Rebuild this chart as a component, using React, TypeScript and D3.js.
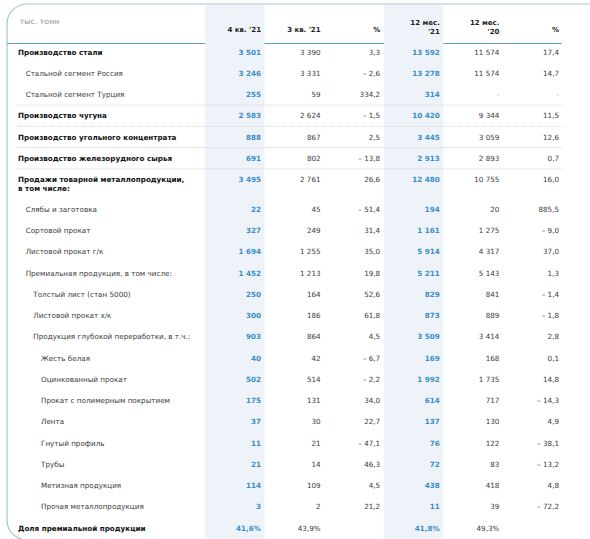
import React from "react";
import * as d3 from "d3";

const labels: string[][] = [
  ["Производство стали"],
  ["Стальной сегмент Россия"],
  ["Стальной сегмент Турция"],
  ["Производство чугуна"],
  ["Производство угольного концентрата"],
  ["Производство железорудного сырья"],
  ["Продажи товарной металлопродукции,", "в том числе:"],
  ["Слябы и заготовка"],
  ["Сортовой прокат"],
  ["Листовой прокат г/к"],
  ["Премиальная продукция, в том числе:"],
  ["Толстый лист (стан 5000)"],
  ["Листовой прокат х/к"],
  ["Продукция глубокой переработки, в т.ч.:"],
  ["Жесть белая"],
  ["Оцинкованный прокат"],
  ["Прокат с полимерным покрытием"],
  ["Лента"],
  ["Гнутый профиль"],
  ["Трубы"],
  ["Метизная продукция"],
  ["Прочая металлопродукция"],
  ["Доля премиальной продукции"],
];
const levels = [0, 1, 1, 0, 0, 0, 0, 1, 1, 1, 1, 2, 2, 2, 3, 3, 3, 3, 3, 3, 3, 3, 0];
const boldRows = [1, 0, 0, 1, 1, 1, 1, 0, 0, 0, 0, 0, 0, 0, 0, 0, 0, 0, 0, 0, 0, 0, 1];

const q4_21: (number | null)[] = [3501, 3246, 255, 2583, 888, 691, 3495, 22, 327, 1694, 1452, 250, 300, 903, 40, 502, 175, 37, 11, 21, 114, 3, 41.6];
const q3_21: (number | null)[] = [3390, 3331, 59, 2624, 867, 802, 2761, 45, 249, 1255, 1213, 164, 186, 864, 42, 514, 131, 30, 21, 14, 109, 2, 43.9];
const pctQ: (number | null)[] = [3.3, -2.6, 334.2, -1.5, 2.5, -13.8, 26.6, -51.4, 31.4, 35.0, 19.8, 52.6, 61.8, 4.5, -6.7, -2.2, 34.0, 22.7, -47.1, 46.3, 4.5, 21.2, null];
const y12_21: (number | null)[] = [13592, 13278, 314, 10420, 3445, 2913, 12480, 194, 1161, 5914, 5211, 829, 873, 3509, 169, 1992, 614, 137, 76, 72, 438, 11, 41.8];
const y12_20: (number | null)[] = [11574, 11574, null, 9344, 3059, 2893, 10755, 20, 1275, 4317, 5143, 841, 889, 3414, 168, 1735, 717, 130, 122, 83, 418, 39, 49.3];
const pctY: (number | null)[] = [17.4, 14.7, null, 11.5, 12.6, 0.7, 16.0, 885.5, -9.0, 37.0, 1.3, -1.4, -1.8, 2.8, 0.1, 14.8, -14.3, 4.9, -38.1, -13.2, 4.8, -72.2, null];

const colKeys = ["q4_21", "q3_21", "pctQ", "y12_21", "y12_20", "pctY"];
const colHeaders: string[][] = [["4 кв. '21"], ["3 кв. '21"], ["%"], ["12 мес.", "'21"], ["12 мес.", "'20"], ["%"]];
const colData = [q4_21, q3_21, pctQ, y12_21, y12_20, pctY];
const colHighlight = [true, false, false, true, false, false];
const colKind = ["num", "num", "pct", "num", "num", "pct"];
const unitLabel = "тыс. тонн";
const separatorsAfter = [2, 3, 4, 5];
const shareRow = 22;

const locale = d3.formatLocale({ decimal: ",", thousands: "\u00a0", grouping: [3], currency: ["", ""], minus: "–\u00a0" });
const fmtInt = locale.format(",d");
const fmtPct = locale.format(",.1f");

const W = 590;
const H = 539;
const FONT = "'DejaVu Sans', Verdana, sans-serif";
const BLUE = "#3a8ec6";
const TEXT = "#3a3a3a";
const FS = 7.2;

export default function App() {
  const x = d3.scalePoint<string>().domain(colKeys).range([261, 559]);
  const slot = (i: number) => i + (i > 6 ? 0.4 : 0);
  const y = d3.scaleLinear().domain([0, 22.4]).range([52, 528]);
  const indent = d3.scaleLinear().domain([0, 3]).range([18, 41]);
  const bandLeft = -56;
  const bandRight = 3.5;

  const fmtCell = (v: number | null, col: number, row: number) => {
    if (v === null) return row === shareRow ? "" : "-";
    if (row === shareRow) return fmtPct(v) + "%";
    return colKind[col] === "pct" ? fmtPct(v) : fmtInt(v);
  };

  const hlCols = colKeys.filter((_, i) => colHighlight[i]);
  const segs: [number, number][] = [];
  let start = 7;
  hlCols.forEach((k) => {
    segs.push([start, (x(k) as number) + bandLeft]);
    start = (x(k) as number) + bandRight;
  });
  segs.push([start, 562]);

  const sepY = (i: number) => (y(slot(i)) + y(slot(i + 1))) / 2;

  return (
    <svg width={W} height={H} style={{ position: "absolute", left: 0, top: 0, background: "#fff" }} fontFamily={FONT}>
      {colKeys.map((k, i) =>
        colHighlight[i] ? (
          <rect key={k} x={(x(k) as number) + bandLeft} y={5} width={bandRight - bandLeft} height={H - 5} fill="#eef3f9" />
        ) : null
      )}
      <path d={`M ${W} 4 H 27 A 20 20 0 0 0 7 24 V 520 A 20 20 0 0 0 27 540`} fill="none" stroke="#9fc5dc" strokeWidth={1.2} />
      {segs.map(([a, b], i) => (
        <line key={i} x1={a} x2={b} y1={43.5} y2={43.5} stroke="#5d9ec4" strokeWidth={1.2} />
      ))}
      {separatorsAfter.map((r) => (
        <line key={r} x1={17} x2={562} y1={sepY(r)} y2={sepY(r)} stroke="#cccccc" strokeWidth={0.8} strokeDasharray="1,1" />
      ))}
      <text x={20} y={22} fontSize={5.8} fill="#b0b0b0" fontWeight="bold" dy="0.35em" letterSpacing={0.3}>
        {unitLabel.toUpperCase()}
      </text>
      {colHeaders.map((lines, i) =>
        lines.map((t, j) => (
          <text
            key={i + "-" + j}
            x={x(colKeys[i]) as number}
            y={lines.length === 1 ? 30 : 23 + j * 8.5}
            dy="0.35em"
            textAnchor="end"
            fontSize={7}
            fontWeight="bold"
            fill="#222"
          >
            {t}
          </text>
        ))
      )}
      {labels.map((lines, r) =>
        lines.map((t, j) => (
          <text
            key={r + "-" + j}
            x={indent(levels[r])}
            y={y(slot(r)) + j * 9}
            dy="0.35em"
            fontSize={FS}
            fontWeight={boldRows[r] ? "bold" : "normal"}
            fill={boldRows[r] ? "#111" : TEXT}
          >
            {t}
          </text>
        ))
      )}
      {colData.map((vals, c) =>
        vals.map((v, r) => (
          <text
            key={c + "-" + r}
            x={x(colKeys[c]) as number}
            y={y(slot(r))}
            dy="0.35em"
            textAnchor="end"
            fontSize={FS}
            fontWeight={colHighlight[c] ? "bold" : "normal"}
            fill={colHighlight[c] ? BLUE : v === null ? "#999" : TEXT}
          >
            {fmtCell(v, c, r)}
          </text>
        ))
      )}
    </svg>
  );
}
